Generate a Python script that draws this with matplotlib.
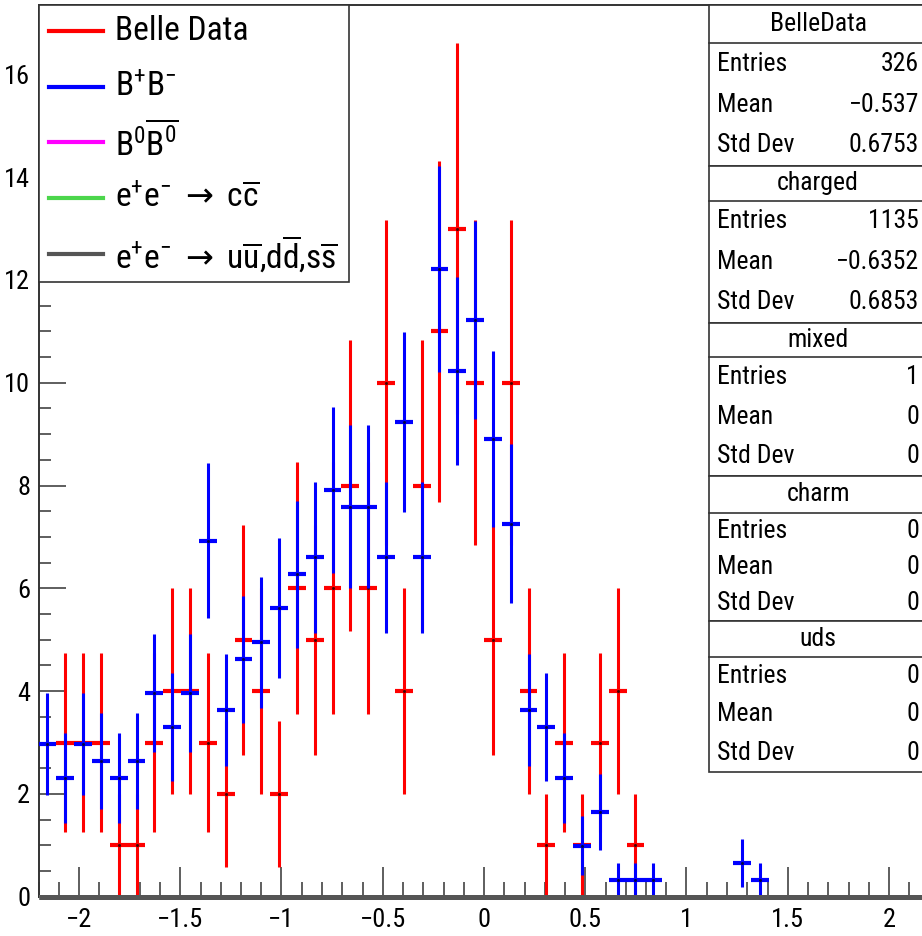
import numpy as np
import matplotlib
matplotlib.use("Agg")
import matplotlib.pyplot as plt
from matplotlib.patches import Rectangle
from matplotlib.lines import Line2D

FONT = ['Roboto Condensed', 'DejaVu Sans']
plt.rcParams['font.family'] = FONT
plt.rcParams['mathtext.fontset'] = 'custom'
plt.rcParams['mathtext.rm'] = FONT[0]
plt.rcParams['mathtext.it'] = FONT[0]
plt.rcParams['mathtext.sf'] = 'DejaVu Sans'

# 50 bins between -2.2 and 2.2
edges = np.linspace(-2.2, 2.2, 51)
centers = 0.5 * (edges[1:] + edges[:-1])

belle = [0, 3, 3, 3, 1, 1, 3, 4, 4, 3, 2, 5, 4, 2, 6, 5, 6, 8, 6, 10,
         4, 8, 11, 13, 10, 5, 10, 4, 1, 3, 1, 3, 4, 1, 0, 0, 0, 0, 0, 0,
         0, 0, 0, 0, 0, 0, 0, 0, 0, 0]
charged_raw = [9, 7, 9, 8, 7, 8, 12, 10, 12, 21, 11, 14, 15, 17, 19, 20, 24, 23, 23, 20,
               28, 20, 37, 31, 34, 27, 22, 11, 10, 7, 3, 5, 1, 1, 1, 0, 0, 0, 0, 2,
               1, 0, 0, 0, 0, 0, 0, 0, 0, 0]
charged_scale = 0.33
mixed = [0] * 50
charm = [0] * 50
uds = [0] * 50

labels = ["Belle Data", r"B$^{+}$B$^{-}$", r"B$^{0}\overline{\mathrm{B}^{0}}$",
          r"e$^{+}$e$^{-}\ \mathsf{\rightarrow}\ $c$\overline{\mathrm{c}}$",
          r"e$^{+}$e$^{-}\ \mathsf{\rightarrow}\ $u$\overline{\mathrm{u}}$,d$\overline{\mathrm{d}}$,s$\overline{\mathrm{s}}$"]
colors = ['#ff0000', '#0000ff', '#ff00ff', '#4cd64c', '#555555']

stats = [("BelleData", "326", "\u22120.537", "0.6753"),
         ("charged", "1135", "\u22120.6352", "0.6853"),
         ("mixed", "1", "0", "0"),
         ("charm", "0", "0", "0"),
         ("uds", "0", "0", "0")]

W, H = 922, 936
fig = plt.figure(figsize=(W / 100, H / 100), dpi=100)
ax = fig.add_axes([38.5 / W, 1 - 896.7 / H, 891 / W, 891.7 / H])

bw = edges[1] - edges[0]
b = np.array(belle, float)
m = b > 0
ax.hlines(b[m], centers[m] - bw / 2, centers[m] + bw / 2, color=colors[0], lw=3, zorder=3)
ax.vlines(centers[m], b[m] - np.sqrt(b[m]), b[m] + np.sqrt(b[m]), color=colors[0], lw=2.2, zorder=3)
ax.plot(centers[m], b[m], ls='none', marker='s', ms=1, color='#400000', zorder=3.5)

c = np.array(charged_raw, float)
mc = c > 0
cv = c * charged_scale
ce = np.sqrt(c) * charged_scale
ax.hlines(cv[mc], centers[mc] - bw / 2, centers[mc] + bw / 2, color=colors[1], lw=3, zorder=4)
ax.vlines(centers[mc], cv[mc] - ce[mc], cv[mc] + ce[mc], color=colors[1], lw=2.2, zorder=4)
ax.plot(centers[mc], cv[mc], ls='none', marker='s', ms=1, color='#000040', zorder=4.5)

ax.stairs(mixed, edges, color=colors[2], lw=3.6, clip_on=False, zorder=5)
ax.stairs(charm, edges, color=colors[3], lw=3.6, clip_on=False, zorder=5)
ax.stairs(uds, edges, color=colors[4], lw=3.6, clip_on=False, zorder=6)

ax.set_xlim(-2.2, 2.2)
ax.set_ylim(0, 17.35)
ax.set_xticks(np.arange(-2, 2.01, 0.5))
ax.set_xticklabels(["\u22122", "\u22121.5", "\u22121", "\u22120.5", "0", "0.5", "1", "1.5", "2"])
ax.set_xticks(np.arange(-2.2, 2.21, 0.1), minor=True)
ax.set_yticks(np.arange(0, 17, 2))
ax.set_yticks(np.arange(0, 17.3, 0.5), minor=True)
ax.tick_params(axis='both', which='both', direction='in', colors='#333333', labelcolor='black',
               width=1.1, labelsize=19)
ax.tick_params(axis='x', which='major', length=21.5, pad=8)
ax.tick_params(axis='x', which='minor', length=11)
ax.tick_params(axis='y', which='major', length=19.5, pad=6)
ax.tick_params(axis='y', which='minor', length=8.5)
for s in ax.spines.values():
    s.set_color('#333333')
    s.set_linewidth(1.4)


def fx(px):
    return px / W


def fy(py):
    return 1 - py / H


# legend box
fig.add_artist(Rectangle((fx(38.5), fy(282)), fx(349) - fx(38.5), fy(5) - fy(282),
                         transform=fig.transFigure, facecolor='white', edgecolor='#333333', lw=1.2, zorder=10))
for i, (lab, col) in enumerate(zip(labels, colors)):
    yc = 30.7 + 55.8 * i
    fig.add_artist(Line2D([fx(49), fx(103)], [fy(yc), fy(yc)], color=col, lw=3, transform=fig.transFigure, zorder=11))
    fig.text(fx(115), fy(yc), lab, fontsize=24, va='center', ha='left', zorder=11)

# stats boxes
blocks = [(5, 43.3, 165.7), (165.7, 201, 322.7), (322.7, 357.3, 476), (476, 512.7, 620.7), (620.7, 656.7, 771.7)]
for (top, sep, bot), (name, ent, mean, std) in zip(blocks, stats):
    fig.add_artist(Rectangle((fx(709), fy(bot)), fx(930) - fx(709), fy(top) - fy(bot),
                             transform=fig.transFigure, facecolor='white', edgecolor='#333333', lw=1.2, zorder=10))
    fig.add_artist(Line2D([fx(709), fx(930)], [fy(sep), fy(sep)], color='#333333', lw=1.2,
                          transform=fig.transFigure, zorder=11))
    fig.text(fx(818), fy((top + sep) / 2), name, fontsize=18.5, ha='center', va='center', zorder=11)
    for j, (k, val) in enumerate(zip(["Entries", "Mean", "Std Dev"], [ent, mean, std])):
        yc = sep + (bot - sep) * (j + 0.5) / 3
        fig.text(fx(717), fy(yc), k, fontsize=18.5, ha='left', va='center', zorder=11)
        fig.text(fx(919), fy(yc), val, fontsize=18.5, ha='right', va='center', zorder=11)

fig.savefig("out.png", dpi=100)
